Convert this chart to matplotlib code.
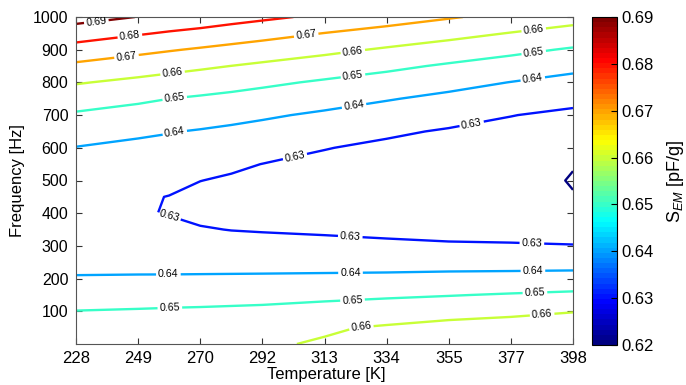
import numpy as np
import matplotlib
matplotlib.use("Agg")
import matplotlib.pyplot as plt
from matplotlib.colors import Normalize, LinearSegmentedColormap
from matplotlib.cm import ScalarMappable

plt.rcParams['font.family'] = ['Liberation Sans', 'DejaVu Sans']
plt.rcParams['mathtext.fontset'] = 'custom'
plt.rcParams['mathtext.rm'] = 'Liberation Sans'
plt.rcParams['mathtext.it'] = 'Liberation Sans:italic'

# ---- data ----
temperatures = [228, 249.25, 259.875, 270.5, 281.125, 291.75, 313, 334.25, 355.5, 376.75, 398]
temp_ticks = [228, 249.25, 270.5, 291.75, 313, 334.25, 355.5, 376.75, 398]
temp_tick_labels = ['228', '249', '270', '292', '313', '334', '355', '377', '398']
frequencies = list(range(0, 1001, 50))
freq_ticks = [100, 200, 300, 400, 500, 600, 700, 800, 900, 1000]
levels = [0.62, 0.63, 0.64, 0.65, 0.66, 0.67, 0.68, 0.69]
cbar_ticks = [0.62, 0.63, 0.64, 0.65, 0.66, 0.67, 0.68, 0.69]

# S_EM [pF/g] versus frequency (0..1000 Hz step 50), one list per temperature
s_228 = [0.6575, 0.6538, 0.6502, 0.6455, 0.6408, 0.6370, 0.6343, 0.6325, 0.6318, 0.6321, 0.6336,
         0.6361, 0.6397, 0.6443, 0.6488, 0.6545, 0.6607, 0.6681, 0.6762, 0.6848, 0.6938]
s_249 = [0.6580, 0.6543, 0.6507, 0.6460, 0.6411, 0.6367, 0.6335, 0.6315, 0.6307, 0.6310, 0.6322,
         0.6344, 0.6376, 0.6418, 0.6465, 0.6516, 0.6578, 0.6648, 0.6725, 0.6809, 0.6898]
s_260 = [0.6583, 0.6546, 0.6510, 0.6463, 0.6411, 0.6368, 0.6345, 0.6321, 0.6296, 0.6298, 0.6322,
         0.6349, 0.6375, 0.6404, 0.6452, 0.6500, 0.6563, 0.6631, 0.6707, 0.6790, 0.6873]
s_270 = [0.6585, 0.6549, 0.6512, 0.6466, 0.6412, 0.6368, 0.6338, 0.6306, 0.6280, 0.6280, 0.6301,
         0.6332, 0.6363, 0.6394, 0.6439, 0.6488, 0.6549, 0.6615, 0.6690, 0.6772, 0.6860]
s_281 = [0.6588, 0.6552, 0.6515, 0.6469, 0.6413, 0.6368, 0.6333, 0.6298, 0.6277, 0.6272, 0.6290,
         0.6314, 0.6349, 0.6383, 0.6426, 0.6476, 0.6534, 0.6599, 0.6673, 0.6753, 0.6837]
s_292 = [0.6590, 0.6554, 0.6518, 0.6472, 0.6414, 0.6368, 0.6330, 0.6294, 0.6272, 0.6259, 0.6279,
         0.6299, 0.6336, 0.6372, 0.6412, 0.6463, 0.6518, 0.6583, 0.6656, 0.6735, 0.6818]
s_313 = [0.6608, 0.6590, 0.6532, 0.6479, 0.6417, 0.6367, 0.6323, 0.6288, 0.6264, 0.6240, 0.6261,
         0.6281, 0.6303, 0.6345, 0.6386, 0.6435, 0.6488, 0.6553, 0.6623, 0.6698, 0.6782]
s_334 = [0.6640, 0.6610, 0.6548, 0.6487, 0.6421, 0.6365, 0.6314, 0.6283, 0.6260, 0.6237, 0.6241,
         0.6263, 0.6284, 0.6313, 0.6359, 0.6406, 0.6461, 0.6521, 0.6589, 0.6665, 0.6745]
s_355 = [0.6660, 0.6631, 0.6564, 0.6496, 0.6427, 0.6365, 0.6307, 0.6281, 0.6259, 0.6237, 0.6225,
         0.6247, 0.6270, 0.6292, 0.6331, 0.6378, 0.6430, 0.6488, 0.6557, 0.6631, 0.6708]
s_377 = [0.6670, 0.6646, 0.6576, 0.6507, 0.6431, 0.6364, 0.6305, 0.6280, 0.6258, 0.6236, 0.6214,
         0.6236, 0.6257, 0.6279, 0.6302, 0.6350, 0.6398, 0.6459, 0.6523, 0.6596, 0.6673]
s_398 = [0.6690, 0.6672, 0.6595, 0.6518, 0.6436, 0.6364, 0.6303, 0.6268, 0.6234, 0.62015, 0.6198,
         0.62015, 0.6229, 0.6257, 0.6284, 0.6321, 0.6370, 0.6425, 0.6490, 0.6563, 0.6637]

# ---- layout (label placement spots, in data units) ----
label_spots = [
    (235, 982), (246.5, 936), (245.3, 877), (306.8, 940),
    (261, 830), (322.7, 894), (384.6, 958),
    (261.8, 748), (322.7, 823), (384.6, 889),
    (261.8, 646), (323, 734), (384.3, 807),
    (302.9, 573), (363.3, 675),
    (259.6, 384), (321.7, 310), (383.9, 298),
    (259.6, 209), (321.9, 214), (384.3, 216),
    (260.1, 109), (322.6, 131), (385, 152),
    (325.7, 40), (387.5, 83),
]

Z = np.column_stack([s_228, s_249, s_260, s_270, s_281, s_292, s_313, s_334, s_355, s_377, s_398])
T, F = np.meshgrid(temperatures, frequencies)

# MATLAB-style jet colormap
jet_ml = LinearSegmentedColormap('jet_ml', {
    'red':   [(0, 0, 0), (0.375, 0, 0), (0.625, 1, 1), (0.875, 1, 1), (1, 0.5, 0.5)],
    'green': [(0, 0, 0), (0.125, 0, 0), (0.375, 1, 1), (0.625, 1, 1), (0.875, 0, 0), (1, 0, 0)],
    'blue':  [(0, 0.5, 0.5), (0.125, 1, 1), (0.375, 1, 1), (0.625, 0, 0), (1, 0, 0)],
}, N=64)
norm = Normalize(vmin=0.62, vmax=0.69)

fig = plt.figure(figsize=(6.86, 3.85), dpi=100)
ax = fig.add_axes([76 / 686, 41 / 385, 497 / 686, 327 / 385])
cs = ax.contour(T, F, Z, levels=levels, cmap=jet_ml, norm=norm, linewidths=1.7)
ax.clabel(cs, manual=label_spots, inline=True, fontsize=7.7,
          fmt='%.2f', inline_spacing=2, colors='black')

ax.set_xlim(228, 398)
ax.set_ylim(0, 1000)
ax.set_xticks(temp_ticks)
ax.set_xticklabels(temp_tick_labels)
ax.set_yticks(freq_ticks)
ax.tick_params(direction='in', top=True, right=True, length=4, color='#333333')
ax.tick_params(axis='x', labelsize=12, pad=5)
ax.tick_params(axis='y', labelsize=11.5, pad=5.5)
for sp in ax.spines.values():
    sp.set_color('#555555')
ax.set_xlabel('Temperature [K]', fontsize=12, va='center')
ax.set_ylabel('Frequency [Hz]', fontsize=12, va='center')
ax.xaxis.set_label_coords((326 - 76) / 497, (344 - 374) / 327)
ax.yaxis.set_label_coords((18 - 76) / 497, 0.5)

cax = fig.add_axes([592 / 686, 40 / 385, 25 / 686, 328 / 385])
cb = fig.colorbar(ScalarMappable(norm=norm, cmap=jet_ml), cax=cax, ticks=cbar_ticks)
cb.ax.tick_params(direction='in', length=4, labelsize=12, pad=3)
cb.ax.set_yticklabels(['%.2f' % v for v in cbar_ticks])
cb.set_label(r'S$_{EM}$ [pF/g]', fontsize=13, labelpad=8)

fig.savefig('out.png', dpi=100)
